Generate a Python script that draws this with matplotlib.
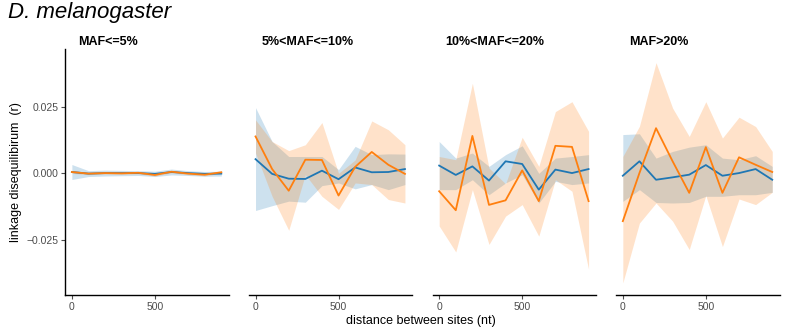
import numpy as np
import matplotlib
matplotlib.use("Agg")
from matplotlib import pyplot as plt

plt.rcParams['font.family'] = ['Liberation Sans', 'DejaVu Sans']

# distance bins (nt)
dist = [0, 100, 200, 300, 400, 500, 600, 700, 800, 900]
panels = ["MAF<=5%", "5%<MAF<=10%", "10%<MAF<=20%", "MAF>20%"]

# blue series: mean, lower, upper
blue_mean = [
    [0.0005, -0.0001, 0.0001, 0.0001, 0.0001, -0.0002, 0.0005, 0.0001, -0.0002, -0.0001],
    [0.0053, -0.0002, -0.0020, -0.0021, 0.0010, -0.0022, 0.0022, 0.0004, 0.0005, 0.0016],
    [0.0029, -0.0006, 0.0026, -0.0027, 0.0045, 0.0035, -0.0061, 0.0014, 0.0001, 0.0016],
    [-0.0009, 0.0045, -0.0024, -0.0015, -0.0005, 0.0031, -0.0009, 0.0001, 0.0016, -0.0024],
]
blue_lo = [
    [-0.0023, -0.0012, -0.0010, -0.0009, -0.0008, -0.0012, -0.0006, -0.0008, -0.0011, -0.0010],
    [-0.0139, -0.0121, -0.0104, -0.0108, -0.0046, -0.0036, -0.0058, -0.0042, -0.0061, -0.0042],
    [-0.0061, -0.0061, -0.0024, -0.0080, -0.0036, -0.0005, -0.0111, -0.0030, -0.0042, -0.0036],
    [-0.0105, -0.0061, -0.0109, -0.0111, -0.0109, -0.0086, -0.0086, -0.0080, -0.0080, -0.0071],
]
blue_hi = [
    [0.0033, 0.0010, 0.0012, 0.0011, 0.0010, 0.0008, 0.0016, 0.0010, 0.0007, 0.0008],
    [0.0246, 0.0119, 0.0063, 0.0063, 0.0063, 0.0014, 0.0101, 0.0070, 0.0073, 0.0072],
    [0.0119, 0.0057, 0.0076, 0.0026, 0.0070, 0.0103, 0.0000, 0.0057, 0.0063, 0.0070],
    [0.0145, 0.0148, 0.0057, 0.0082, 0.0098, 0.0107, 0.0057, 0.0051, 0.0066, 0.0026],
]

# orange series: mean, lower, upper
orange_mean = [
    [0.0005, -0.0001, 0.0001, 0.0000, 0.0002, -0.0006, 0.0006, -0.0001, -0.0005, 0.0004],
    [0.0138, 0.0016, -0.0065, 0.0051, 0.0050, -0.0083, 0.0024, 0.0080, 0.0032, -0.0002],
    [-0.0067, -0.0138, 0.0140, -0.0118, -0.0101, 0.0011, -0.0104, 0.0103, 0.0099, -0.0104],
    [-0.0179, 0.0001, 0.0169, 0.0045, -0.0073, 0.0098, -0.0073, 0.0060, 0.0032, 0.0005],
]
orange_lo = [
    [0.0000, -0.0005, -0.0003, -0.0004, -0.0002, -0.0010, 0.0002, -0.0005, -0.0009, 0.0000],
    [0.0076, -0.0086, -0.0213, -0.0005, -0.0086, -0.0135, -0.0036, -0.0042, -0.0098, -0.0111],
    [-0.0197, -0.0294, -0.0061, -0.0266, -0.0160, -0.0117, -0.0235, -0.0024, -0.0067, -0.0359],
    [-0.0410, -0.0186, -0.0111, -0.0179, -0.0285, -0.0083, -0.0274, -0.0096, -0.0117, -0.0071],
]
orange_hi = [
    [0.0010, 0.0003, 0.0005, 0.0004, 0.0006, -0.0002, 0.0010, 0.0003, -0.0001, 0.0008],
    [0.0200, 0.0119, 0.0085, 0.0107, 0.0190, 0.0000, 0.0050, 0.0196, 0.0163, 0.0107],
    [0.0063, 0.0051, 0.0337, 0.0020, -0.0039, 0.0135, 0.0026, 0.0231, 0.0268, 0.0157],
    [0.0063, 0.0176, 0.0414, 0.0244, 0.0138, 0.0268, 0.0132, 0.0210, 0.0175, 0.0082],
]

blue = "#1f77b4"
orange = "#ff7f0e"

fig, axes = plt.subplots(1, 4, figsize=(7.86, 3.27), dpi=100, sharey=True)
fig.subplots_adjust(left=0.083, right=0.992, top=0.85, bottom=0.098, wspace=0.123)

for i, ax in enumerate(axes):
    ax.fill_between(dist, blue_lo[i], blue_hi[i], color=blue, alpha=0.22, lw=0)
    ax.fill_between(dist, orange_lo[i], orange_hi[i], color=orange, alpha=0.22, lw=0)
    ax.plot(dist, blue_mean[i], color=blue, lw=1.3)
    ax.plot(dist, orange_mean[i], color=orange, lw=1.3)
    ax.set_xlim(-40, 945)
    ax.set_ylim(-0.0455, 0.0465)
    ax.set_xticks([0, 500])
    ax.set_yticks([-0.025, 0, 0.025])
    ax.set_yticklabels(["\u22120.025", "0.000", "0.025"])
    for s in ["top", "right"]:
        ax.spines[s].set_visible(False)
    ax.spines["bottom"].set_linewidth(1.0)
    ax.spines["left"].set_linewidth(1.0)
    ax.tick_params(labelsize=7.5, colors="#4d4d4d", length=3, width=0.8, pad=2)
    ax.text(0.08, 1.03, panels[i], transform=ax.transAxes, fontsize=9,
            fontweight="bold", ha="left", va="center")
    if i > 0:
        ax.spines["left"].set_visible(False)
        ax.tick_params(axis="y", left=False, labelleft=False)

axes[0].set_ylabel("linkage disequilibirum  (r)", fontsize=9, labelpad=3)
fig.text(0.535, 0.0, "distance between sites (nt)", ha="center", va="bottom", fontsize=9)
fig.text(0.01, 0.995, "D. melanogaster", ha="left", va="top", fontsize=16, style="italic")

fig.savefig("out.png", dpi=100)
